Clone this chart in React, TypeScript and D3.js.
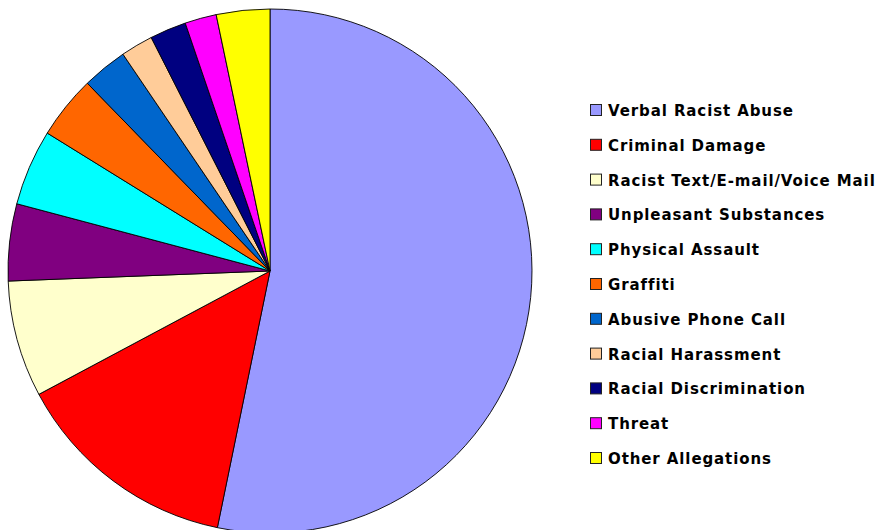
import React from 'react';
import * as d3 from 'd3';

// categories and share of allegations (clockwise from 12 o'clock)
const categories = [
  'Verbal Racist Abuse',
  'Criminal Damage',
  'Racist Text/E-mail/Voice Mail',
  'Unpleasant Substances',
  'Physical Assault',
  'Graffiti',
  'Abusive Phone Call',
  'Racial Harassment',
  'Racial Discrimination',
  'Threat',
  'Other Allegations',
];
const values = [53.3, 14.0, 7.2, 4.75, 4.7, 3.9, 2.8, 2.0, 2.25, 1.95, 3.3];
const colors = [
  '#9999FF', '#FF0000', '#FFFFCC', '#800080', '#00FFFF', '#FF6600',
  '#0066CC', '#FFCC99', '#000080', '#FF00FF', '#FFFF00',
];

const W = 879;
const H = 530;
const cx = 270;
const cy = 271;
const r = 262;

export default function App() {
  const arcs = d3.pie<number>().sort(null).value(d => d)(values);
  const arc = d3.arc<d3.PieArcDatum<number>>().innerRadius(0).outerRadius(r);

  const legendY = d3.scalePoint<string>()
    .domain(categories)
    .range([104, 452]);

  return (
    <svg
      width={W}
      height={H}
      style={{ position: 'absolute', left: 0, top: 0, background: '#fff' }}
    >
      <g transform={`translate(${cx},${cy})`}>
        {arcs.map((a, i) => (
          <path
            key={categories[i]}
            d={arc(a) || ''}
            fill={colors[i]}
            stroke="#000"
            strokeWidth={0.9}
            strokeLinejoin="round"
          />
        ))}
      </g>
      <g fontFamily="'DejaVu Sans', sans-serif" fontWeight="bold" fontSize={15} letterSpacing={0.9}>
        {categories.map((c, i) => (
          <g key={c} transform={`translate(590,${legendY(c)})`}>
            <rect x={0.5} y={0.5} width={11} height={11} fill={colors[i]} stroke="#222" strokeWidth={1} />
            <text x={18} y={12} fill="#000">{c}</text>
          </g>
        ))}
      </g>
    </svg>
  );
}
